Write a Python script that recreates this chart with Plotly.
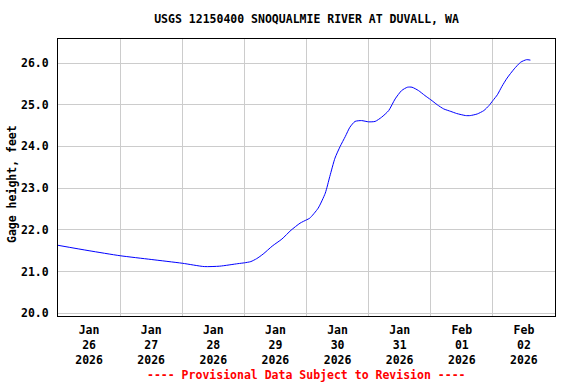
import plotly.graph_objects as go

# Gage height readings (feet)
times = [
    "2026-01-26 00:00", "2026-01-26 12:00", "2026-01-27 00:00", "2026-01-27 12:00",
    "2026-01-28 00:00", "2026-01-28 08:30", "2026-01-28 14:30", "2026-01-28 21:30",
    "2026-01-29 00:00", "2026-01-29 02:30", "2026-01-29 04:45", "2026-01-29 07:15",
    "2026-01-29 10:45", "2026-01-29 14:30", "2026-01-29 18:00", "2026-01-29 21:30",
    "2026-01-30 00:00", "2026-01-30 01:15", "2026-01-30 04:30", "2026-01-30 07:15",
    "2026-01-30 09:00", "2026-01-30 11:00", "2026-01-30 13:00", "2026-01-30 15:00",
    "2026-01-30 16:45", "2026-01-30 18:45", "2026-01-30 21:15", "2026-01-31 00:00",
    "2026-01-31 02:30", "2026-01-31 05:00", "2026-01-31 07:45", "2026-01-31 10:15",
    "2026-01-31 12:45", "2026-01-31 15:00", "2026-01-31 16:45", "2026-01-31 19:15",
    "2026-01-31 21:45", "2026-02-01 00:00", "2026-02-01 02:30", "2026-02-01 05:00",
    "2026-02-01 07:45", "2026-02-01 10:00", "2026-02-01 13:30", "2026-02-01 15:15",
    "2026-02-01 18:00", "2026-02-01 20:30", "2026-02-01 22:30", "2026-02-02 00:00",
    "2026-02-02 01:45", "2026-02-02 03:30", "2026-02-02 05:30", "2026-02-02 08:15",
    "2026-02-02 10:45", "2026-02-02 13:00", "2026-02-02 14:30",
]
gage_height = [
    21.63, 21.50, 21.38, 21.29,
    21.20, 21.12, 21.13, 21.19,
    21.21, 21.24, 21.31, 21.42,
    21.61, 21.78, 21.99, 22.16,
    22.24, 22.28, 22.52, 22.88,
    23.28, 23.72, 24.00, 24.24,
    24.46, 24.60, 24.62, 24.59,
    24.60, 24.70, 24.86, 25.14,
    25.34, 25.42, 25.42, 25.34,
    25.22, 25.12, 25.00, 24.90,
    24.84, 24.79, 24.74, 24.74,
    24.78, 24.86, 24.98, 25.10,
    25.24, 25.44, 25.64, 25.86,
    26.02, 26.08, 26.07,
]

tick_dates = ["2026-01-26 12:00", "2026-01-27 12:00", "2026-01-28 12:00", "2026-01-29 12:00",
              "2026-01-30 12:00", "2026-01-31 12:00", "2026-02-01 12:00", "2026-02-02 12:00"]
tick_labels = ["Jan<br>26<br>2026", "Jan<br>27<br>2026", "Jan<br>28<br>2026", "Jan<br>29<br>2026",
               "Jan<br>30<br>2026", "Jan<br>31<br>2026", "Feb<br>01<br>2026", "Feb<br>02<br>2026"]
y_ticks = [20, 21, 22, 23, 24, 25, 26]

FONT = "DejaVu Sans Mono"
FS = 11.5

fig = go.Figure()
fig.add_trace(go.Scatter(
    x=times, y=gage_height, mode="lines",
    line=dict(color="#0000FF", width=1, shape="spline", smoothing=0.6),
    showlegend=False, hoverinfo="x+y",
))

fig.update_layout(
    width=576, height=384,
    margin=dict(l=58, r=21, t=39, b=68, autoexpand=False),
    paper_bgcolor="white", plot_bgcolor="white",
    font=dict(family=FONT, size=FS, color="black", weight="bold"),
    title=dict(text="USGS 12150400 SNOQUALMIE RIVER AT DUVALL, WA",
               x=0.5, xref="paper", y=1 - 19 / 384, yref="container",
               xanchor="center", yanchor="middle", automargin=False,
               font=dict(family=FONT, size=FS, color="black", weight="bold")),
    xaxis=dict(
        type="date", range=["2026-01-26 00:00", "2026-02-03 00:00"],
        tickmode="array", tickvals=tick_dates, ticktext=tick_labels,
        showgrid=False, ticks="", ticklabelstandoff=3, automargin=False,
        showline=True, linecolor="black", linewidth=1, mirror=True,
        zeroline=False,
        minor=dict(tick0="2026-01-26", dtick=86400000, showgrid=True,
                   gridcolor="#cccccc", gridwidth=1, ticks=""),
        tickfont=dict(family=FONT, size=FS, color="black", weight="bold"),
    ),
    yaxis=dict(
        range=[19.935, 26.576], tickmode="array", tickvals=y_ticks,
        tickformat=".1f", showgrid=True, gridcolor="#cccccc", gridwidth=1,
        ticks="", ticklabelstandoff=6, automargin=False,
        showline=True, linecolor="black", linewidth=1, mirror=True,
        zeroline=False,
        tickfont=dict(family=FONT, size=FS, color="black", weight="bold"),
    ),
    annotations=[
        dict(
            text="Gage height, feet", textangle=-90,
            x=(12 - 58) / 497, xref="paper", y=(316 - 184) / 277, yref="paper",
            xanchor="center", yanchor="middle", showarrow=False,
            font=dict(family=FONT, size=FS, color="black", weight="bold"),
        ),
        dict(
            text="---- Provisional Data Subject to Revision ----",
            x=0.5, xref="paper", y=(316 - 375) / 277, yref="paper",
            xanchor="center", yanchor="middle", showarrow=False,
            font=dict(family=FONT, size=FS, color="#FF0000", weight="bold"),
        ),
    ],
)

fig.write_html("out.html", config={"displayModeBar": False},
               post_script="document.body.style.margin='0';document.body.style.padding='0';")
